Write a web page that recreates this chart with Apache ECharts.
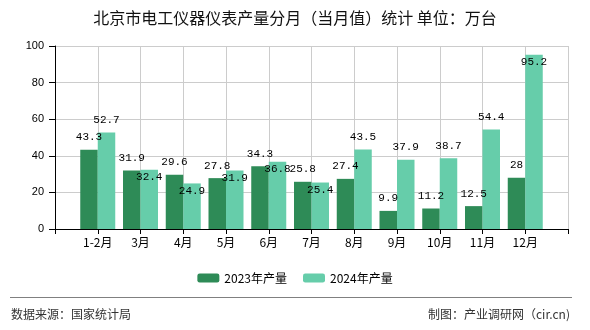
<!DOCTYPE html>
<html>
<head>
<meta charset="utf-8">
<script src="https://cdn.jsdelivr.net/npm/echarts@6/dist/echarts.min.js"></script>
<style>html,body{margin:0;padding:0;background:#fff;}#c{width:590px;height:330px;}</style>
</head>
<body>
<div id="c"></div>
<script>
const categories = ['1-2月', '3月', '4月', '5月', '6月', '7月', '8月', '9月', '10月', '11月', '12月'];
const values2023 = [43.3, 31.9, 29.6, 27.8, 34.3, 25.8, 27.4, 9.9, 11.2, 12.5, 28];
const values2024 = [52.7, 32.4, 24.9, 31.9, 36.8, 25.4, 43.5, 37.9, 38.7, 54.4, 95.2];
const yTicks = { min: 0, max: 100, interval: 20 };
const seriesNames = ['2023年产量', '2024年产量'];
const titleText = '北京市电工仪器仪表产量分月（当月值）统计 单位：万台';
const sourceText = '数据来源：国家统计局';
const makerText = '制图：产业调研网（cir.cn)';

// padded category axis: blank slot on each end
const xData = [''].concat(categories, ['']);
const labelFont = { fontFamily: 'Liberation Mono, Noto Sans CJK SC', fontSize: 11, color: '#000' };

const d23 = [null].concat(values2023.map(v => ({ value: v })), [null]);
const d24 = [null].concat(values2024.map((v, i) => {
  const crowded = Math.abs(v - values2023[i]) < 8 || v > 90;
  return crowded
    ? { value: v, label: { position: 'insideTop', distance: 2 } }
    : { value: v };
}), [null]);

const chart = echarts.init(document.getElementById('c'), null, { renderer: 'canvas' });
chart.setOption({
  animation: false,
  backgroundColor: '#fff',
  textStyle: { fontFamily: 'Noto Sans CJK SC' },
  title: {
    text: titleText, left: 'center', top: 10, padding: 0,
    textStyle: { fontSize: 16, fontWeight: 'normal', color: '#111', fontFamily: 'Noto Sans CJK SC' }
  },
  legend: {
    data: seriesNames, left: 'center', top: 267, itemWidth: 22, itemHeight: 9, itemGap: 16,
    textStyle: { fontSize: 12, color: '#000', fontFamily: 'Noto Sans CJK SC' }
  },
  grid: { left: 55, right: 22, top: 46, bottom: 101 },
  xAxis: {
    type: 'category', data: xData, boundaryGap: false,
    axisLine: { lineStyle: { color: '#000' } },
    axisTick: { show: true, length: 5, lineStyle: { color: '#000' } },
    axisLabel: { interval: 0, margin: 7, fontSize: 12, color: '#000', fontFamily: 'Noto Sans CJK SC' },
    splitLine: { show: true, lineStyle: { color: '#ccc' } }
  },
  yAxis: {
    type: 'value', min: yTicks.min, max: yTicks.max, interval: yTicks.interval,
    axisLine: { show: true, lineStyle: { color: '#000' } },
    axisTick: { show: true, length: 6, lineStyle: { color: '#000' } },
    axisLabel: { margin: 11, fontSize: 11, color: '#000', fontFamily: 'Liberation Sans' },
    splitLine: { show: true, lineStyle: { color: '#ccc' } }
  },
  series: [
    {
      name: seriesNames[0], type: 'bar', data: d23, barWidth: 17.5, barGap: '0%',
      itemStyle: { color: '#2e8b57' },
      label: Object.assign({ show: true, position: 'top', distance: 7 }, labelFont)
    },
    {
      name: seriesNames[1], type: 'bar', data: d24, barWidth: 17.5, barGap: '0%',
      itemStyle: { color: '#66cdaa' },
      label: Object.assign({ show: true, position: 'top', distance: 7 }, labelFont)
    }
  ],
  graphic: [
    { type: 'line', shape: { x1: 10, y1: 297.5, x2: 572, y2: 297.5 }, style: { stroke: '#808080', lineWidth: 1 } },
    { type: 'text', left: 11, top: 308, style: { text: sourceText, fontSize: 12, fill: '#333', fontFamily: 'Noto Sans CJK SC' } },
    { type: 'text', right: 20, top: 308, style: { text: makerText, fontSize: 12, fill: '#333', fontFamily: 'Noto Sans CJK SC' } }
  ]
});
</script>
</body>
</html>
